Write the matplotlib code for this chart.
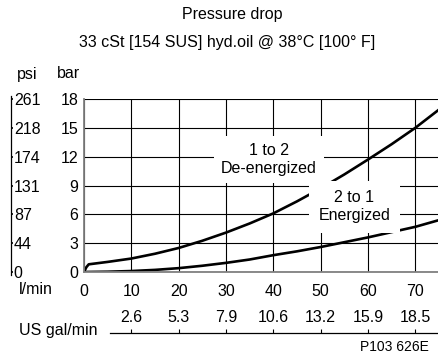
import matplotlib
matplotlib.use("Agg")
import matplotlib.pyplot as plt

plt.rcParams["font.family"] = ["Liberation Sans", "DejaVu Sans"]
plt.rcParams["font.size"] = 11.5

# Flow in l/min, pressure drop in bar
flow_12 = [0, 0.5, 1, 5, 10, 15, 20, 25, 30, 35, 40, 45, 50, 55, 60, 65, 70, 75]
dp_12 = [0, 0.5, 0.8, 1.05, 1.4, 1.9, 2.5, 3.25, 4.1, 5.05, 6.1, 7.35, 8.7, 10.15, 11.7, 13.3, 15.0, 16.9]

flow_21 = [0, 5, 10, 15, 20, 25, 30, 35, 40, 45, 50, 55, 60, 65, 70, 75]
dp_21 = [0, 0.03, 0.1, 0.22, 0.4, 0.65, 0.95, 1.3, 1.75, 2.15, 2.6, 3.1, 3.6, 4.15, 4.7, 5.4]

bar_ticks = [0, 3, 6, 9, 12, 15, 18]
psi_labels = ["0", "44", "87", "131", "174", "218", "261"]
lpm_ticks = [0, 10, 20, 30, 40, 50, 60, 70]
gpm_ticks = [10, 20, 30, 40, 50, 60, 70]
gpm_labels = ["2.6", "5.3", "7.9", "10.6", "13.2", "15.9", "18.5"]

W, H = 439, 353
fig = plt.figure(figsize=(W / 100, H / 100), dpi=100)

x0, x1, y0, y1 = 84, 439, 99, 272
ax = fig.add_axes([x0 / W, 1 - y1 / H, (x1 - x0) / W, (y1 - y0) / H])
ax.set_xlim(0, 75)
ax.set_ylim(0, 18)

ax.plot(flow_12, dp_12, color="black", lw=1.9, solid_capstyle="round")
ax.plot(flow_21, dp_21, color="black", lw=1.9, solid_capstyle="round")

ax.set_xticks(lpm_ticks)
ax.set_yticks(bar_ticks)
ax.grid(True, color="black", lw=0.8)
ax.set_axisbelow(True)
ax.tick_params(length=0, pad=9, colors="black")
ax.tick_params(axis="y", pad=4)
for s in ["top", "right"]:
    ax.spines[s].set_visible(False)
for s in ["left", "bottom"]:
    ax.spines[s].set_color("#808080")
    ax.spines[s].set_linewidth(1.3)

# psi scale on the far left
psi = ax.secondary_yaxis(-0.2056, functions=(lambda v: v, lambda v: v))
psi.set_yticks(bar_ticks, labels=psi_labels)
psi.tick_params(axis="y", left=True, right=False, labelleft=False, labelright=True,
                direction="in", length=1.5, width=1.2, pad=2)
psi.spines["left"].set_linewidth(0.9)
psi.spines["left"].set_bounds(-0.3, 18.3)

box = dict(facecolor="white", edgecolor="none", pad=5)
ax.text(39.1, 11.7, "1 to 2\nDe-energized", ha="center", va="center", bbox=box)
ax.text(57.1, 6.8, "2 to 1\nEnergized", ha="center", va="center",
        bbox=dict(facecolor="white", edgecolor="none", pad=7))

# US gal/min scale below
gy = 1 - 333 / H
ax3 = fig.add_axes([x0 / W, gy, (x1 - x0) / W, 0.0001])
ax3.set_xlim(0, 75)
ax3.set_yticks([])
for s in ["bottom", "left", "right"]:
    ax3.spines[s].set_visible(False)
ax3.spines["top"].set_bounds(5.5, 75)
ax3.spines["top"].set_linewidth(0.9)
ax3.xaxis.set_ticks_position("top")
ax3.set_xticks(gpm_ticks, labels=gpm_labels)
ax3.tick_params(axis="x", direction="out", length=3, width=0.8, pad=3)
ax3.patch.set_visible(False)

fig.text(232 / W, 1 - 14 / H, "Pressure drop", ha="center", va="center")
fig.text(227 / W, 1 - 42 / H, "33 cSt [154 SUS] hyd.oil @ 38°C [100° F]", ha="center", va="center")
fig.text(27 / W, 1 - 74 / H, "psi", ha="center", va="center")
fig.text(68 / W, 1 - 74 / H, "bar", ha="center", va="center")
fig.text(36 / W, 1 - 290 / H, "l/min", ha="center", va="center")
fig.text(58 / W, 1 - 330 / H, "US gal/min", ha="center", va="center")
fig.text(394 / W, 1 - 347 / H, "P103 626E", ha="center", va="center", fontsize=10)

fig.savefig("out.png", dpi=100)
